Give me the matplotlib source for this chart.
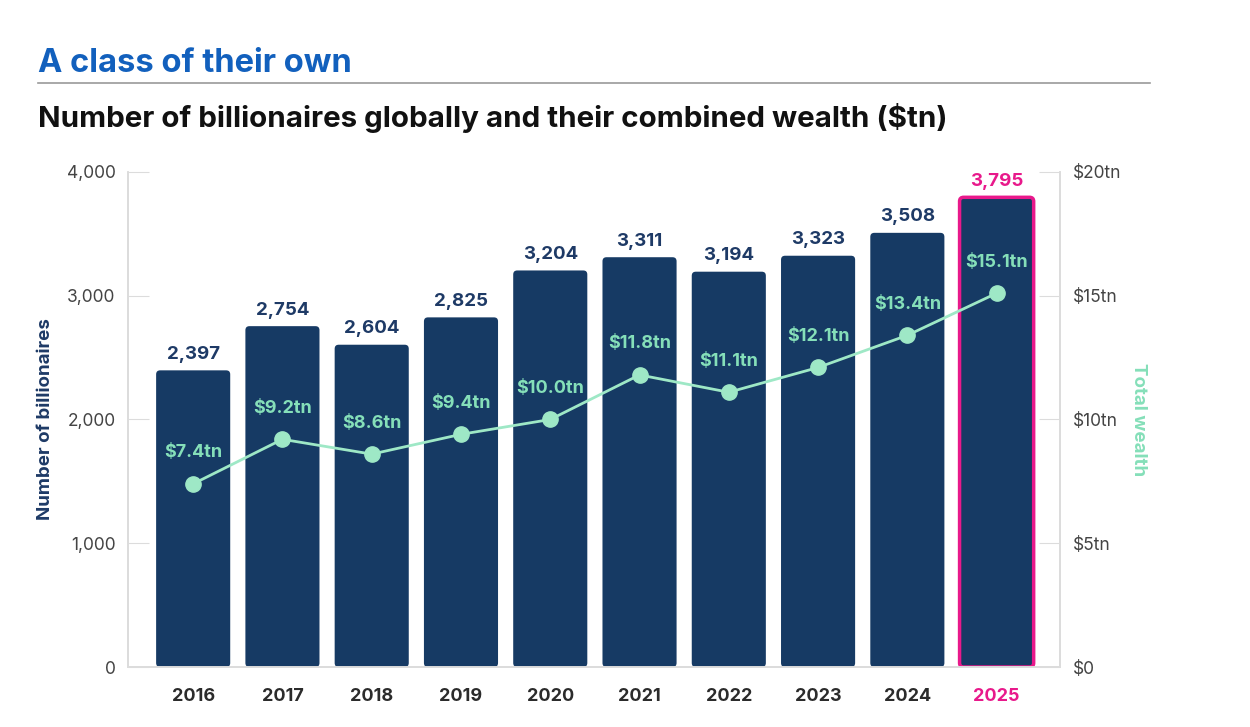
import matplotlib.pyplot as plt
from matplotlib.patches import FancyBboxPatch

plt.rcParams['font.family'] = ['Inter', 'DejaVu Sans']

years = ['2016', '2017', '2018', '2019', '2020', '2021', '2022', '2023', '2024', '2025']
billionaires = [2397, 2754, 2604, 2825, 3204, 3311, 3194, 3323, 3508, 3795]
wealth_tn = [7.4, 9.2, 8.6, 9.4, 10.0, 11.8, 11.1, 12.1, 13.4, 15.1]
left_ticks = [0, 1000, 2000, 3000, 4000]
right_ticks = [0, 5, 10, 15, 20]
right_tick_labels = ['$0', '$5tn', '$10tn', '$15tn', '$20tn']

navy = '#163a64'
mint = '#9ee8c6'
mint_text = '#85dfb9'
pink = '#e8198b'
blue = '#1260bd'
grey_axis = '#dcdcdc'

fig = plt.figure(figsize=(12.5, 7.27), dpi=100)
ax = fig.add_axes([0.1024, 0.0825, 0.7456, 0.681])
ax2 = ax.twinx()

x = list(range(len(years)))
bars = ax.bar(x, billionaires, width=0.83, color=navy, zorder=2)

# swap plain rectangles for slightly rounded ones
for i, b in enumerate(bars):
    b.set_visible(False)
    last = i == len(bars) - 1
    patch = FancyBboxPatch((b.get_x(), 0), b.get_width(), b.get_height(),
                           boxstyle="round,pad=0,rounding_size=0.045",
                           mutation_aspect=720,
                           facecolor=navy,
                           edgecolor=pink if last else navy,
                           linewidth=2.5 if last else 0, zorder=2)
    ax.add_patch(patch)
    ax.text(i, billionaires[i] + 128, f"{billionaires[i]:,}", ha='center', va='center',
            fontsize=13.5, fontweight='bold', color=pink if last else '#1e3a66')

ax.set_xlim(-0.73, 9.71)
ax.set_ylim(0, 4000)
ax.set_yticks(left_ticks)
ax.set_yticklabels([f"{v:,}" for v in left_ticks])
ax.set_xticks(x)
ax.set_xticklabels(years)
for i, lab in enumerate(ax.get_xticklabels()):
    lab.set_fontweight('bold')
    lab.set_color(pink if i == len(years) - 1 else '#2b2b2b')
ax.tick_params(axis='x', length=0, labelsize=13, pad=15)
ax.tick_params(axis='y', direction='in', length=15, color=grey_axis, labelsize=12.5,
               labelcolor='#444444', pad=9)
ax.set_ylabel('Number of billionaires', fontsize=13.5, fontweight='bold', color='#1e3a66', labelpad=9)

ax2.plot(x, wealth_tn, color=mint, linewidth=2, marker='o', markersize=11, zorder=3)
for i, v in enumerate(wealth_tn):
    ax2.text(i, v + 1.25, f"${v:.1f}tn", ha='center', va='center', fontsize=13,
             fontweight='bold', color=mint_text)
ax2.set_ylim(0, 20)
ax2.set_yticks(right_ticks)
ax2.set_yticklabels(right_tick_labels)
ax2.tick_params(axis='y', direction='in', length=15, color=grey_axis, labelsize=12.5,
                labelcolor='#444444', pad=9)
ax2.set_ylabel('Total wealth', fontsize=13.5, fontweight='bold', color=mint_text,
               rotation=270, labelpad=19)

for a in (ax, ax2):
    a.spines['top'].set_visible(False)
    for side in ('left', 'right', 'bottom'):
        a.spines[side].set_color(grey_axis)
        a.spines[side].set_linewidth(1.2)

fig.text(0.030, 0.913, 'A class of their own', fontsize=23.5, fontweight='bold',
         color=blue, va='center')
fig.add_artist(plt.Line2D([0.030, 0.920], [0.886, 0.886], color='#9a9a9a', linewidth=1.2))
fig.text(0.030, 0.838, 'Number of billionaires globally and their combined wealth ($tn)',
         fontsize=21.3, fontweight='bold', color='#111111', va='center')

fig.savefig('out.png', dpi=100)
